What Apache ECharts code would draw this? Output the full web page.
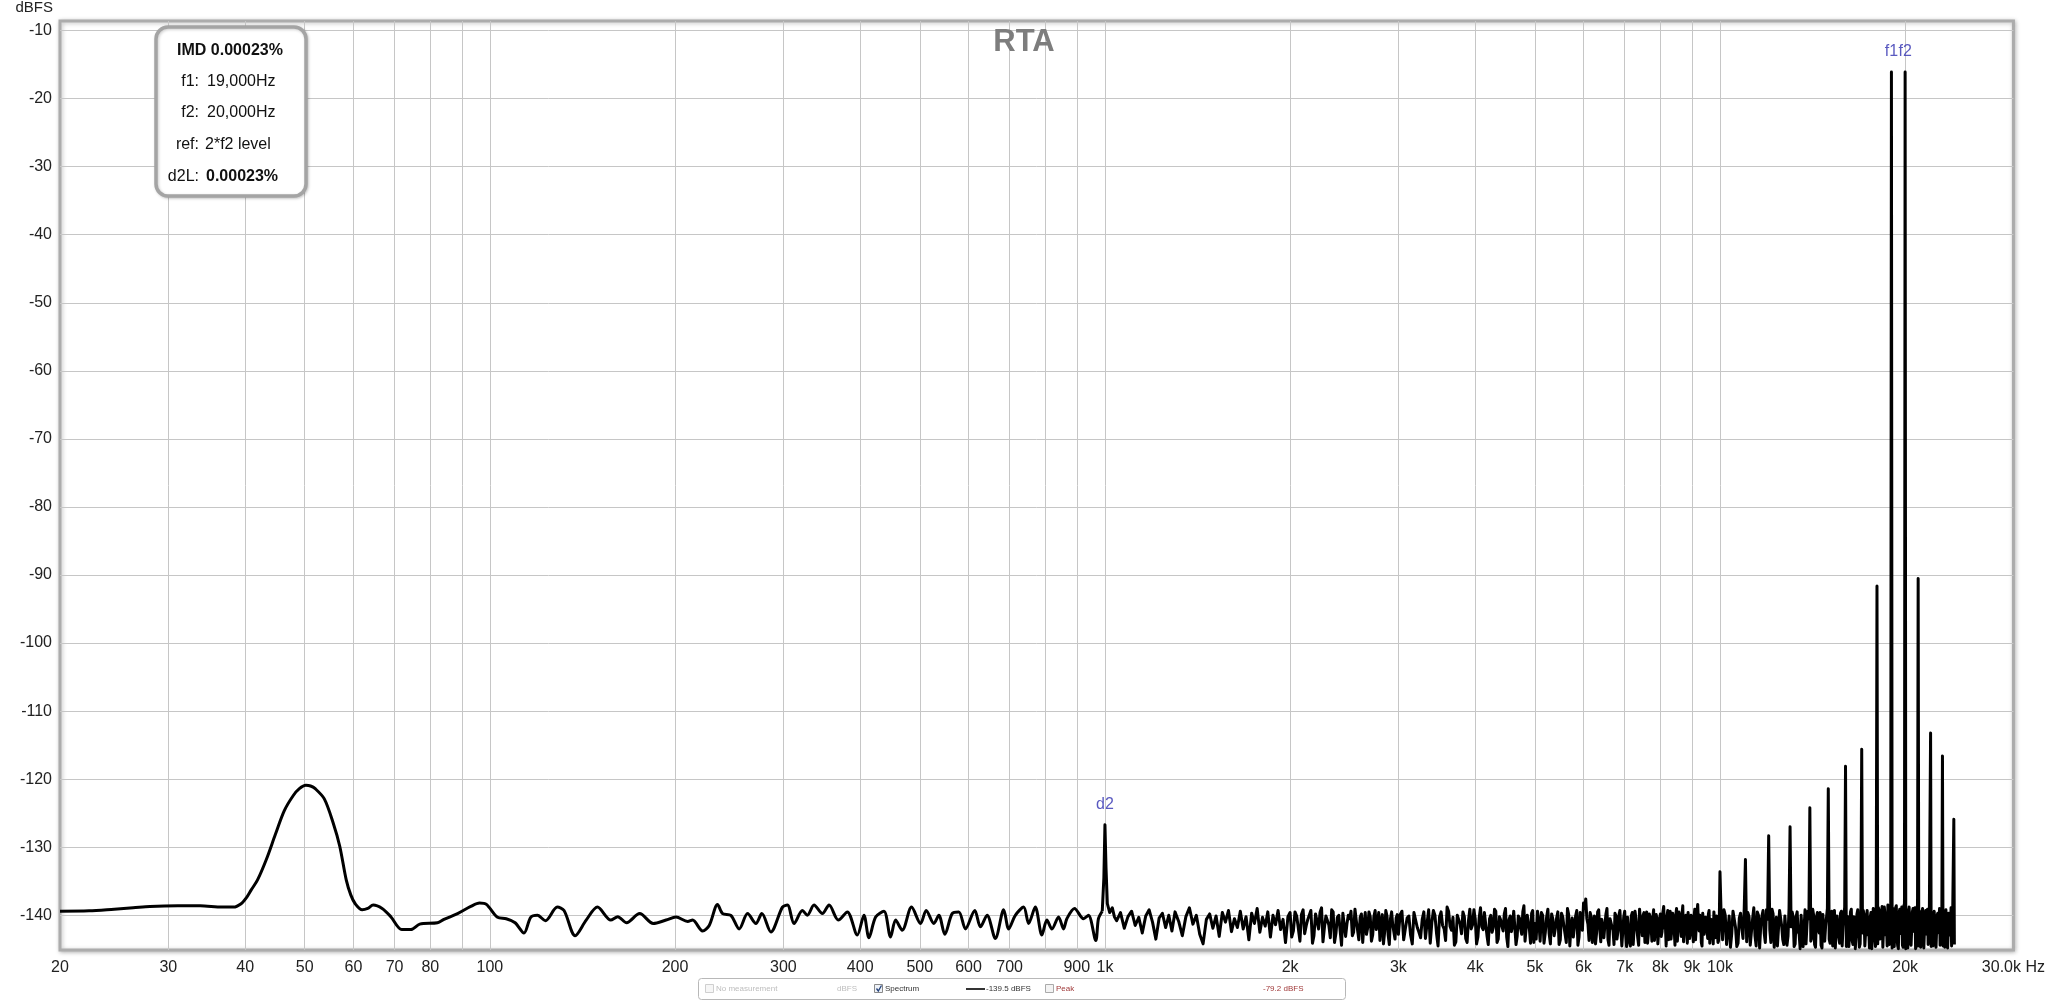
<!DOCTYPE html>
<html><head><meta charset="utf-8">
<script src="https://cdn.jsdelivr.net/npm/echarts@6/dist/echarts.min.js"></script>
<style>html,body{margin:0;padding:0;background:#fff}#c{width:2048px;height:1002px}</style>
</head><body><div id="c"></div>
<script>
// ---- data ----
const lowFreqs = [20,22.3,24.5,26.3,28.0,31.1,33.8,36.7,38.3,39.4,40.2,40.9,41.9,43.3,44.8,46.3,47.9,49.0,50.2,51.1,52.0,53.8,55.6,57.0,58.4,59.4,60.4,62.0,63.3,64.6,66.8,69.0,71.9,74.4,76.9,82.2,84.2,88.6,93.1,96.2,98.7,102.9,106.3,109.9,113.6,116.5,119.5,123.1,128.7,132.0,137.6,143.4,149.6,157.2,161.4,166.8,175.2,184.3,193.4,200.7,209.7,213.6,221.7,227.3,234.5,239.0,246.5,254.3,262.4,270.7,276.8,286.3,299.0,304.6,312.3,322.2,328.2,336.5,347.2,356.0,368.6,381.2,395.7,405.7,413.3,423.8,437.2,448.2,456.7,468.2,484.8,501.4,512.1,527.0,537.0,549.1,564.4,578.6,593.2,614.3,627.4,643.2,663.5,684.5,697.4,715.0,737.6,751.5,770.4,789.8,804.7,819.9,840.6,856.4,867.1,892.3,922.8,940.2,966.3,976.0,990,996,1004,1009,1018,1028,1036];
const lowLevels = [-139.4,-139.35,-139.1,-138.9,-138.7,-138.6,-138.6,-138.8,-138.8,-138.3,-137.4,-136.3,-134.8,-131.8,-128.1,-124.65,-122.4,-121.4,-120.9,-121.0,-121.4,-122.9,-126.4,-129.85,-134.8,-137.0,-138.3,-139.2,-139.0,-138.5,-139.0,-140.2,-142.1,-142.1,-141.3,-141.1,-140.6,-139.75,-138.7,-138.2,-138.4,-140.3,-140.5,-141.1,-142.6,-140.3,-140.0,-140.8,-138.8,-139.3,-143.0,-140.7,-138.8,-140.7,-140.2,-141.1,-139.75,-141.2,-140.7,-140.25,-140.9,-140.7,-142.3,-141.5,-138.4,-139.75,-140.0,-142.0,-139.75,-141.2,-139.75,-142.45,-138.8,-138.5,-141.2,-139.3,-140.0,-138.5,-139.75,-138.5,-140.7,-139.5,-142.9,-140.0,-143.3,-140.25,-139.4,-143.2,-140.7,-142.2,-138.8,-141.2,-139.3,-141.2,-140.0,-142.8,-139.75,-139.5,-142.0,-139.3,-141.7,-140.0,-143.4,-139.2,-142.0,-140.0,-138.8,-141.2,-138.8,-142.9,-140.7,-142.0,-140.25,-142.0,-140.5,-139.0,-140.5,-140.0,-143.7,-140.5,-139.4,-134.5,-133.0,-138.3,-139.6,-138.9,-140.2];

const noiseFreqs = [
1045,1060,1075,1090,1105,1120,1135,1150,1165,1180,1195,1210,1225,1240,1255,1270,1285,1300,1318,1336,
1354,1372,1390,1408,1426,1444,1462,1480,1498,1516,1534,1552,1570,1588,1606,1624,1642,1660,1678,1696,
1714,1732,1750,1768,1786,1804,1822,1840,1858,1876,1894,1912,1930,1948,1966,1984,
2000,2025,2050,2075,2100,2125,2150,2175,2200,2225,2250,2275,2300,2325,2350,2375,2400,2425,2450,2475,
2500,2525,2550,2575,2600,2625,2650,2675,2700,2725,2750,2775,2800,2825,2850,2875,2900,2925,2950,2975,
3000,3040,3080,3120,3160,3200,3240,3280,3320,3360,3400,3440,3480,3520,3560,3600,3640,3680,3720,3760,
3800,3840,3880,3920,3960,4000,4040,4080,4120,4160,4200,4240,4280,4320,4360,4400,4440,4480,4520,4560,
4600,4640,4680,4720,4760,4800,4840,4880,4920,4960,
5000,5050,5100,5150,5200,5250,5300,5350,5400,5450,5500,5550,5600,5650,5700,5750,5800,5850,5900,5950,
6000,6050,6100,6150,6200,6250,6300,6350,6400,6450,6500,6550,6600,6650,6700,6750,6800,6850,6900,6950,
7000,7050,7100,7150,7200,7250,7300,7350,7400,7450,7500,7550,7600,7650,7700,7750,7800,7850,7900,7950,
8000,8050,8100,8150,8200,8250,8300,8350,8400,8450,8500,8550,8600,8650,8700,8750,8800,8850,8900,8950,
9000,9050,9100,9150,9200,9250,9300,9350,9400,9450,9500,9550,9600,9650,9700,9750,9800,9850,9900,9950,
10050,10150,10250,10350,10450,10550,10650,10750,10850,10950,11050,11150,11250,11350,11450,11550,11650,11750,11850,11950,
12050,12150,12250,12350,12450,12550,12650,12750,12850,12950,13050,13150,13250,13350,13450,13550,13650,13750,13850,13950,
14050,14150,14250,14350,14450,14550,14650,14750,14850,14950,15050,15150,15250,15350,15450,15550,15650,15750,15850,15950,
16050,16150,16250,16350,16450,16550,16650,16750,16850,16950,17050,17150,17250,17350,17450,17550,17650,17750,17850,17950,
18050,18150,18250,18350,18450,18550,18650,18750,18850,18950,19050,19150,19250,19350,19450,19550,19650,19750,19850,19950,
20050,20150,20250,20350,20450,20550,20650,20750,20850,20950,21050,21150,21250,21350,21450,21550,21650,21750,21850,21950,
22050,22150,22250,22350,22450,22550,22650,22750,22850,22950,23050,23150,23250,23350,23450,23550,23650,23750,23850,23950,
24050];
const noiseLevels = [
-140.8,-139.6,-141.9,-140.2,-139.4,-141.5,-140.3,-142.6,-140.1,-139.2,-141.0,-143.5,-140.4,-139.7,-141.8,-140.0,-142.3,-139.5,-140.9,-143.0,
-140.2,-138.9,-141.3,-140.0,-142.8,-144.2,-140.6,-139.8,-141.9,-140.1,-143.1,-139.6,-141.0,-139.3,-142.4,-140.5,-141.8,-139.4,-142.0,-140.2,
-143.6,-139.7,-141.2,-139.0,-142.5,-140.3,-141.6,-139.5,-143.2,-140.0,-141.4,-139.3,-142.1,-140.6,-144.0,-140.2,
-139.6,-142.3,-140.1,-143.8,-139.2,-141.5,-140.4,-144.1,-139.8,-142.0,-138.9,-141.7,-140.2,-143.3,-139.5,-142.6,-140.0,-144.4,-139.7,-141.2,
-140.5,-143.0,-139.1,-142.2,-140.3,-144.0,-139.6,-141.8,-140.2,-142.9,-139.3,-141.0,-143.7,-139.9,-142.4,-140.1,-144.3,-139.5,-141.6,-140.4,
-142.8,-139.4,-141.9,-140.1,-144.2,-139.7,-142.5,-140.6,-143.4,-139.2,-141.1,-140.0,-144.5,-139.5,-142.0,-138.8,-141.6,-140.3,-143.9,-139.9,
-142.7,-140.2,-144.0,-139.1,-141.4,-140.5,-143.2,-138.9,-142.1,-139.8,-144.3,-140.0,-141.8,-139.4,-143.5,-140.7,-142.3,-139.0,-144.6,-140.1,
-141.5,-139.6,-143.1,-140.4,-142.8,-138.6,-141.9,-140.2,-144.1,-139.3,
-141.2,-139.4,-143.8,-140.0,-142.5,-139.1,-144.2,-140.6,-141.9,-139.5,-143.6,-140.2,-142.8,-139.0,-144.5,-140.4,-141.7,-139.3,-143.2,-139.8,
-138.2,-137.6,-141.3,-139.6,-144.0,-140.1,-142.6,-139.2,-143.9,-140.5,-141.4,-139.0,-144.4,-140.3,-142.2,-139.7,-143.5,-140.0,-141.8,-144.7,
-139.4,-144.6,-140.2,-144.5,-139.6,-142.1,-140.4,-143.3,-139.1,-141.6,-140.0,-144.0,-139.5,-142.7,-140.3,-143.8,-139.2,-141.5,-140.6,-144.3,
-139.8,-142.4,-138.7,-141.2,-140.1,-143.6,-139.4,-142.0,-140.5,-144.4,-139.0,-141.8,-140.2,-143.1,-138.6,-141.4,-140.0,-144.1,-139.7,-142.6,
-140.3,-143.9,-139.1,-141.7,-138.4,-142.3,-140.6,-144.5,-139.5,-141.9,-140.1,-143.4,-139.3,-142.5,-140.4,-144.2,-139.6,-141.1,-140.0,-143.7,
-141.0,-139.2,-144.3,-140.1,-142.7,-139.5,-144.6,-140.4,-141.8,-139.0,-143.9,-140.2,-142.4,-138.9,-144.5,-140.0,-141.5,-139.3,-144.0,-140.6,
-142.1,-139.1,-144.7,-140.3,-141.9,-139.4,-143.6,-140.1,-144.4,-139.0,-141.7,-140.2,-144.2,-139.5,-142.8,-140.0,-144.6,-139.2,-141.4,-140.5,
-143.8,-139.1,-144.3,-140.3,-142.0,-139.6,-144.8,-140.1,-141.6,-139.0,-143.5,-140.4,-144.5,-139.3,-142.2,-140.0,-144.1,-139.4,-141.9,-138.8,
-144.6,-140.2,-142.5,-139.1,-144.3,-140.5,-141.3,-139.2,-144.7,-138.9,-142.6,-140.0,-144.4,-139.3,-141.8,-140.3,-144.9,-139.0,-142.1,-138.6,
-144.2,-139.4,-143.0,-138.7,-144.6,-139.9,-141.5,-138.5,-144.3,-138.4,-144.8,-139.2,-142.4,-138.6,-144.5,-139.7,-141.9,-138.8,-144.7,-138.3,
-144.9,-139.0,-142.8,-138.7,-144.4,-139.5,-141.6,-138.9,-144.6,-138.5,-144.5,-139.3,-142.3,-139.0,-144.8,-139.8,-141.7,-139.1,-144.2,-138.8,
-144.6,-139.6,-142.5,-139.2,-144.7,-140.0,-141.4,-139.0,-144.4,-138.9,-144.5,-139.4,-142.9,-139.1,-144.8,-139.7,-141.8,-138.9,-144.6,-139.2,
-144.3];

// additional, finer-spaced noise bins (2 kHz and up)
const noise2Freqs = [
2012,2037,2062,2087,2112,2137,2162,2187,2212,2237,2262,2287,2312,2337,2362,2387,2412,2437,2462,2487,
2512,2537,2562,2587,2612,2637,2662,2687,2712,2737,2762,2787,2812,2837,2862,2887,2912,2937,2962,2987,
3020,3060,3100,3140,3180,3220,3260,3300,3340,3380,3420,3460,3500,3540,3580,3620,3660,3700,3740,3780,
3820,3860,3900,3940,3980,4020,4060,4100,4140,4180,4220,4260,4300,4340,4380,4420,4460,4500,4540,4580,
4620,4660,4700,4740,4780,4820,4860,4900,4940,4980,
5025,5075,5125,5175,5225,5275,5325,5375,5425,5475,5525,5575,5625,5675,5725,5775,5825,5875,5925,5975,
6025,6075,6125,6175,6225,6275,6325,6375,6425,6475,6525,6575,6625,6675,6725,6775,6825,6875,6925,6975,
7025,7075,7125,7175,7225,7275,7325,7375,7425,7475,7525,7575,7625,7675,7725,7775,7825,7875,7925,7975,
8025,8075,8125,8175,8225,8275,8325,8375,8425,8475,8525,8575,8625,8675,8725,8775,8825,8875,8925,8975,
9025,9075,9125,9175,9225,9275,9325,9375,9425,9475,9525,9575,9625,9675,9725,9775,9825,9875,9925,9975,
10100,10200,10300,10400,10500,10600,10700,10800,10900,
11100,11200,11300,11400,11500,11600,11700,11800,11900,
12100,12200,12300,12400,12500,12600,12700,12800,12900,
13100,13200,13300,13400,13500,13600,13700,13800,13900,
14100,14200,14300,14400,14500,14600,14700,14800,14900,
15100,15200,15300,15400,15500,15600,15700,15800,15900,
16100,16200,16300,16400,16500,16600,16700,16800,16900,
17100,17200,17300,17400,17500,17600,17700,17800,17900,
18100,18200,18300,18400,18500,18600,18700,18800,18900,
19100,19200,19300,19400,19500,19600,19700,19800,19900,
20100,20200,20300,20400,20500,20600,20700,20800,20900,
21100,21200,21300,21400,21500,21600,21700,21800,21900,
22100,22200,22300,22400,22500,22600,22700,22800,22900,
23100,23200,23300,23400,23500,23600,23700,23800,23900];
const noise2Levels = [
-143.2,-139.5,-141.8,-139.9,-142.7,-140.6,-139.3,-143.0,-140.8,-139.6,-143.9,-140.1,-141.4,-139.2,-144.0,-140.3,-142.2,-139.7,-143.1,-140.0,
-139.4,-142.5,-140.7,-143.6,-139.8,-141.3,-142.8,-139.5,-143.8,-140.2,-142.1,-139.6,-140.9,-144.2,-139.3,-142.9,-140.5,-141.4,-143.5,-139.9,
-139.9,-143.6,-140.4,-142.9,-139.6,-141.8,-143.3,-139.5,-141.2,-144.1,-139.3,-142.6,-140.2,-141.5,-143.7,-139.4,-142.2,-144.4,-140.0,-141.3,
-139.5,-143.4,-140.8,-142.0,-139.2,-144.2,-140.3,-141.7,-139.6,-143.0,-140.5,-142.5,-139.1,-144.0,-140.2,-141.6,-139.8,-143.2,-140.6,-142.4,
-139.4,-144.3,-140.1,-141.9,-139.5,-143.8,-140.0,-142.1,-139.7,-144.0,
-143.5,-140.9,-139.6,-144.1,-140.3,-142.7,-139.8,-143.0,-140.4,-144.3,-139.7,-141.6,-144.0,-139.9,-141.5,-143.2,-140.1,-144.4,-139.6,-142.2,
-139.0,-140.5,-143.7,-140.2,-141.9,-144.2,-139.5,-142.0,-140.6,-143.3,-139.8,-143.6,-140.5,-141.7,-144.3,-140.1,-142.4,-139.3,-144.5,-140.2,
-142.8,-140.3,-143.9,-140.1,-144.3,-139.4,-141.9,-144.4,-140.7,-143.0,-139.6,-142.6,-144.1,-139.8,-141.5,-140.4,-143.7,-139.9,-144.2,-140.5,
-143.1,-139.6,-141.9,-144.5,-139.3,-140.8,-143.5,-139.7,-142.2,-140.0,-143.8,-139.5,-141.6,-139.9,-143.9,-140.4,-142.3,-139.6,-143.4,-140.0,
-141.8,-140.2,-143.6,-139.4,-141.2,-140.0,-144.0,-139.7,-142.8,-140.3,-141.7,-139.8,-144.1,-140.6,-141.9,-139.5,-143.3,-140.1,-144.0,-140.5,
-143.6,-140.0,-142.2,-144.7,-139.4,-141.8,-144.1,-139.7,-143.4,
-139.6,-144.4,-140.5,-143.0,-139.5,-144.8,-140.1,-142.6,-139.2,
-144.0,-139.8,-142.9,-144.5,-139.3,-141.6,-144.3,-140.0,-143.1,
-139.5,-144.6,-140.2,-142.4,-144.9,-139.8,-141.9,-144.2,-139.4,
-143.3,-140.0,-144.7,-139.6,-142.6,-144.4,-139.9,-143.8,-140.3,
-144.1,-139.4,-142.0,-144.8,-140.1,-143.2,-139.7,-144.5,-140.0,
-142.3,-144.6,-139.5,-143.7,-140.2,-144.9,-139.8,-142.8,-144.2,
-139.3,-144.5,-140.4,-142.9,-144.8,-139.6,-143.4,-140.0,-144.6,
-138.9,-143.5,-139.7,-144.7,-138.8,-142.9,-144.5,-139.2,-144.0,
-139.0,-144.6,-138.9,-143.3,-144.9,-139.1,-142.7,-144.4,-138.7,
-139.2,-144.8,-138.8,-143.6,-144.5,-139.0,-142.4,-144.9,-138.9,
-139.4,-144.7,-139.5,-143.1,-144.6,-139.3,-142.8,-144.3,-139.0,
-139.6,-144.5,-139.4,-143.4,-144.8,-139.7,-142.6,-144.4,-139.3,
-139.5,-144.7,-139.2,-143.0,-144.6,-139.8,-142.9,-144.5,-139.4];

// distortion / IMD products (spike tops)
const spikeFreqs  = [1000, 10000, 11000, 12000, 13000, 14000, 15000, 16000, 17000, 18000, 19000, 20000, 21000, 22000, 23000, 24000];
const spikeLevels = [-126.7, -133.6, -131.8, -128.3, -127.0, -124.2, -121.4, -118.1, -115.6, -91.6, -16.1, -16.1, -90.5, -113.2, -116.6, -125.9];

// peak markers
const markerFreqs  = [1000, 19000, 20000];
const markerLabels = ['d2', 'f1', 'f2'];

// axes
const gridFreqs  = [30,40,50,60,70,80,90,100,200,300,400,500,600,700,800,900,1000,2000,3000,4000,5000,6000,7000,8000,9000,10000,20000];
const labelFreqs = [20,30,40,50,60,70,80,100,200,300,400,500,600,700,900,1000,2000,3000,4000,5000,6000,7000,8000,9000,10000,20000,30000];
const labelTexts = ['20','30','40','50','60','70','80','100','200','300','400','500','600','700','900','1k','2k','3k','4k','5k','6k','7k','8k','9k','10k','20k','30.0k Hz'];
const yTicks = [-140,-130,-120,-110,-100,-90,-80,-70,-60,-50,-40,-30,-20,-10];

// ---- build ----
const pts = [];
lowFreqs.forEach((f, i) => pts.push([f, lowLevels[i]]));
const nN = Math.min(noiseFreqs.length, noiseLevels.length);
for (let i = 0; i < nN; i++) pts.push([noiseFreqs[i], noiseLevels[i]]);
const nN2 = Math.min(noise2Freqs.length, noise2Levels.length);
for (let i = 0; i < nN2; i++) pts.push([noise2Freqs[i], noise2Levels[i]]);
spikeFreqs.forEach((f, i) => pts.push([f, spikeLevels[i]]));
pts.sort((a, b) => a[0] - b[0]);
const smoothPart = pts.filter(p => p[0] <= 990);
const sharpPart = pts.filter(p => p[0] >= 990);

const markerData = markerFreqs.map((f, i) => [f, spikeLevels[spikeFreqs.indexOf(f)]]);

function labelFor(v) {
  for (let i = 0; i < labelFreqs.length; i++) {
    if (Math.abs(Math.log10(v) - Math.log10(labelFreqs[i])) < 1e-4) return labelTexts[i];
  }
  return '';
}

const FONT = '"Liberation Sans", Arial, sans-serif';
const lineStyle = {color: '#000', width: 3, join: 'round'};
const chart = echarts.init(document.getElementById('c'), null, {renderer: 'canvas'});
chart.setOption({
  animation: false,
  backgroundColor: '#ffffff',
  title: {
    text: 'RTA', left: 'center', top: 27, padding: 0,
    textStyle: {fontSize: 31, fontWeight: 'bold', color: '#7d7d7d', fontFamily: FONT}
  },
  grid: {
    show: true, left: 60, right: 30, top: 21, bottom: 52,
    backgroundColor: '#ffffff', borderColor: '#acacac', borderWidth: 3,
    shadowColor: 'rgba(0,0,0,0.25)', shadowBlur: 4, shadowOffsetX: 1, shadowOffsetY: 1
  },
  xAxis: {
    type: 'log', logBase: 10, min: 20, max: 30000,
    axisLine: {show: false},
    axisTick: {show: false, customValues: gridFreqs},
    axisLabel: {
      customValues: labelFreqs, formatter: v => labelFor(v),
      margin: 10, fontSize: 16, color: '#222', fontFamily: FONT
    },
    splitLine: {show: true, lineStyle: {color: '#c6c6c6', width: 1}}
  },
  yAxis: {
    type: 'value', min: -145.1, max: -8.6,
    name: 'dBFS', nameLocation: 'end', nameGap: 6,
    nameTextStyle: {align: 'right', padding: [0, 7, 0, 0], fontSize: 15, color: '#222', fontFamily: FONT},
    axisLine: {show: false},
    axisTick: {show: false, customValues: yTicks},
    axisLabel: {customValues: yTicks, margin: 8, fontSize: 16, color: '#222', fontFamily: FONT},
    splitLine: {show: true, lineStyle: {color: '#c6c6c6', width: 1}}
  },
  series: [
    {type: 'line', data: smoothPart, symbol: 'none', silent: true, z: 3, smooth: 0.3, lineStyle: lineStyle},
    {type: 'line', data: sharpPart, symbol: 'none', silent: true, z: 3, lineStyle: lineStyle},
    {
      type: 'scatter', data: markerData, symbolSize: 1, silent: true, z: 4,
      itemStyle: {color: 'rgba(0,0,0,0)'},
      label: {
        show: true, position: 'top', distance: 12,
        formatter: p => markerLabels[p.dataIndex],
        color: '#3030b0', fontSize: 16, fontFamily: FONT
      }
    }
  ],
  graphic: [
    // info box
    {type: 'rect', z: 100, shape: {x: 156, y: 27, width: 150, height: 169, r: 12},
     style: {fill: '#fff', stroke: '#a4a4a4', lineWidth: 3.5, shadowBlur: 3, shadowColor: 'rgba(0,0,0,0.2)', shadowOffsetX: 1, shadowOffsetY: 1}},
    {type: 'text', z: 101, x: 230, y: 51, style: {text: 'IMD 0.00023%', font: 'bold 16px ' + FONT, fill: '#111', align: 'center', verticalAlign: 'middle', textAlign: 'center', textVerticalAlign: 'middle'}},
    {type: 'text', z: 101, x: 199, y: 82, style: {text: 'f1:', font: '16px ' + FONT, fill: '#111', align: 'right', verticalAlign: 'middle', textAlign: 'right', textVerticalAlign: 'middle'}},
    {type: 'text', z: 101, x: 207, y: 82, style: {text: '19,000Hz', font: '16px ' + FONT, fill: '#111', align: 'left', verticalAlign: 'middle', textAlign: 'left', textVerticalAlign: 'middle'}},
    {type: 'text', z: 101, x: 199, y: 113, style: {text: 'f2:', font: '16px ' + FONT, fill: '#111', align: 'right', verticalAlign: 'middle', textAlign: 'right', textVerticalAlign: 'middle'}},
    {type: 'text', z: 101, x: 207, y: 113, style: {text: '20,000Hz', font: '16px ' + FONT, fill: '#111', align: 'left', verticalAlign: 'middle', textAlign: 'left', textVerticalAlign: 'middle'}},
    {type: 'text', z: 101, x: 199, y: 145, style: {text: 'ref:', font: '16px ' + FONT, fill: '#111', align: 'right', verticalAlign: 'middle', textAlign: 'right', textVerticalAlign: 'middle'}},
    {type: 'text', z: 101, x: 205, y: 145, style: {text: '2*f2 level', font: '16px ' + FONT, fill: '#111', align: 'left', verticalAlign: 'middle', textAlign: 'left', textVerticalAlign: 'middle'}},
    {type: 'text', z: 101, x: 199, y: 177, style: {text: 'd2L:', font: '16px ' + FONT, fill: '#111', align: 'right', verticalAlign: 'middle', textAlign: 'right', textVerticalAlign: 'middle'}},
    {type: 'text', z: 101, x: 206, y: 177, style: {text: '0.00023%', font: 'bold 16px ' + FONT, fill: '#111', align: 'left', verticalAlign: 'middle', textAlign: 'left', textVerticalAlign: 'middle'}},
    // bottom legend bar
    {type: 'rect', z: 100, shape: {x: 698.5, y: 978.5, width: 647, height: 21, r: 3}, style: {fill: '#fff', stroke: '#b8b8b8', lineWidth: 1}},
    {type: 'rect', z: 101, shape: {x: 705.5, y: 984.5, width: 8, height: 8}, style: {fill: '#f6f6f6', stroke: '#cfcfcf', lineWidth: 1}},
    {type: 'text', z: 101, x: 716, y: 989, style: {text: 'No measurement', font: '8px ' + FONT, fill: '#bdbdbd', align: 'left', verticalAlign: 'middle', textAlign: 'left', textVerticalAlign: 'middle'}},
    {type: 'text', z: 101, x: 837, y: 989, style: {text: 'dBFS', font: '8px ' + FONT, fill: '#bdbdbd', align: 'left', verticalAlign: 'middle', textAlign: 'left', textVerticalAlign: 'middle'}},
    {type: 'rect', z: 101, shape: {x: 874.5, y: 984.5, width: 8, height: 8}, style: {fill: '#eef2f8', stroke: '#8a8a8a', lineWidth: 1}},
    {type: 'polyline', z: 102, shape: {points: [[876.5, 988.5], [878.3, 991], [881.5, 985.5]]}, style: {stroke: '#24427a', lineWidth: 1.3, fill: null}},
    {type: 'text', z: 101, x: 885, y: 989, style: {text: 'Spectrum', font: '8px ' + FONT, fill: '#333', align: 'left', verticalAlign: 'middle', textAlign: 'left', textVerticalAlign: 'middle'}},
    {type: 'line', z: 101, shape: {x1: 966, y1: 989, x2: 985, y2: 989}, style: {stroke: '#000', lineWidth: 1.6}},
    {type: 'text', z: 101, x: 986, y: 989, style: {text: '-139.5 dBFS', font: '8px ' + FONT, fill: '#333', align: 'left', verticalAlign: 'middle', textAlign: 'left', textVerticalAlign: 'middle'}},
    {type: 'rect', z: 101, shape: {x: 1045.5, y: 984.5, width: 8, height: 8}, style: {fill: '#f3f3f3', stroke: '#aaaaaa', lineWidth: 1}},
    {type: 'text', z: 101, x: 1056, y: 989, style: {text: 'Peak', font: '8px ' + FONT, fill: '#a03a3a', align: 'left', verticalAlign: 'middle', textAlign: 'left', textVerticalAlign: 'middle'}},
    {type: 'text', z: 101, x: 1263, y: 989, style: {text: '-79.2 dBFS', font: '8px ' + FONT, fill: '#a03a3a', align: 'left', verticalAlign: 'middle', textAlign: 'left', textVerticalAlign: 'middle'}}
  ]
});
</script>
</body></html>
